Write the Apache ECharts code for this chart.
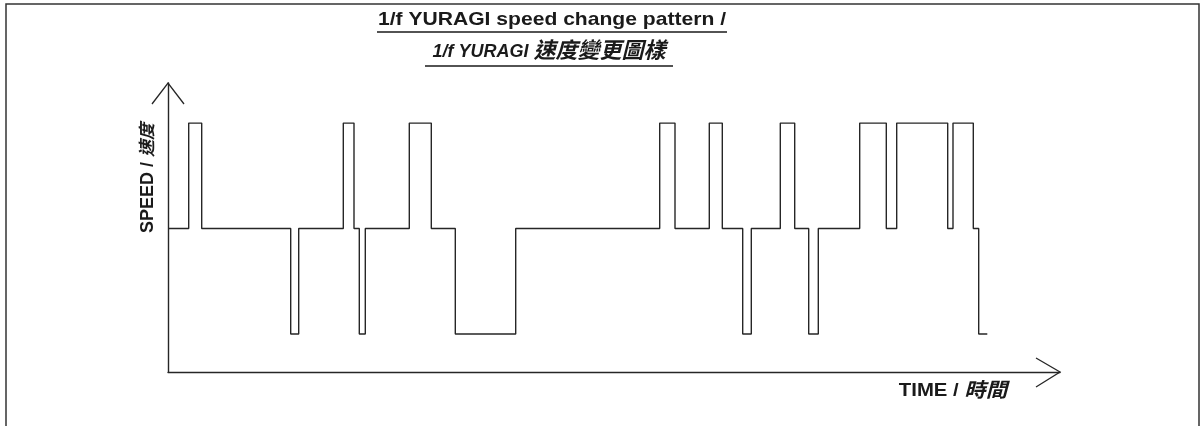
<!DOCTYPE html>
<html>
<head>
<meta charset="utf-8">
<script src="https://cdn.jsdelivr.net/npm/echarts@6/dist/echarts.min.js"></script>
<style>
    html, body { margin: 0; padding: 0; background: #fff; }
    #chart { width: 1202px; height: 426px; }
</style>
</head>
<body>
<div id="chart"></div>
<script>
// time (arbitrary units) at which the speed level changes
var timePoints = [0, 20.7, 33.7, 122.7, 130.7, 175.3, 186, 191.3, 197.3, 241.3, 263.3, 287.3, 347.7,
    491.7, 507, 541.3, 554.3, 574.7, 583.3, 612.3, 626.7, 640.7, 650.3, 691.7, 718.3, 728.7,
    779.7, 785, 805.3, 810.7, 819.3];
// speed level held from that time on: 1 = slow, 2 = normal, 3 = fast
var speedLevels = [2, 3, 2, 1, 2, 3, 2, 1, 2, 3, 2, 1, 2,
    3, 2, 3, 2, 1, 2, 3, 2, 1, 2, 3, 2, 3,
    2, 3, 2, 1, 1];

var titleLine1 = '1/f YURAGI speed change pattern /';
var titleLine2a = '1/f YURAGI ';
var titleLine2b = '速度變更圖樣';

var ink = '#262626';
var textInk = '#1a1a1a';
var font = '"Liberation Sans", "Noto Sans CJK TC", sans-serif';

var seriesData = [];
for (var i = 0; i < timePoints.length; i++) {
    seriesData.push([timePoints[i], speedLevels[i]]);
}

var chart = echarts.init(document.getElementById('chart'));

var option = {
    backgroundColor: '#fff',
    animation: false,
    grid: {
        left: 168,
        right: 142,
        top: 83,
        bottom: 54
    },
    xAxis: {
        type: 'value',
        min: 0,
        max: 892,
        axisLine: { lineStyle: { color: ink, width: 1.4 } },
        axisTick: { show: false },
        axisLabel: { show: false },
        splitLine: { show: false }
    },
    yAxis: {
        type: 'value',
        min: 0.64,
        max: 3.38,
        axisLine: { show: true, lineStyle: { color: ink, width: 1.4 } },
        axisTick: { show: false },
        axisLabel: { show: false },
        splitLine: { show: false }
    },
    series: [
        {
            type: 'line',
            step: 'end',
            data: seriesData,
            showSymbol: false,
            lineStyle: { color: ink, width: 1.4 }
        }
    ],
    graphic: [
        // frame
        {
            type: 'rect',
            shape: { x: 6, y: 4, width: 1193, height: 440 },
            style: { fill: 'none', stroke: '#333', lineWidth: 1.5 }
        },
        // title
        {
            type: 'text',
            x: 552,
            y: 20,
            scaleX: 1.11,
            style: {
                text: titleLine1,
                font: 'bold 19px ' + font,
                fill: textInk,
                textAlign: 'center',
                textVerticalAlign: 'middle'
            }
        },
        {
            type: 'line',
            shape: { x1: 377, y1: 32, x2: 727, y2: 32 },
            style: { stroke: textInk, lineWidth: 1.3 }
        },
        {
            type: 'text',
            x: 549,
            y: 52,
            style: {
                text: '{a|' + titleLine2a + '}{b|' + titleLine2b + '}',
                textAlign: 'center',
                textVerticalAlign: 'middle',
                rich: {
                    a: { font: 'italic bold 18px ' + font, fill: textInk },
                    b: { font: 'italic bold 22px ' + font, fill: textInk }
                }
            }
        },
        {
            type: 'line',
            shape: { x1: 425, y1: 66, x2: 673, y2: 66 },
            style: { stroke: textInk, lineWidth: 1.3 }
        },
        // axis arrow heads
        {
            type: 'polyline',
            shape: { points: [[152, 104], [168, 83], [184, 104]] },
            style: { fill: 'none', stroke: ink, lineWidth: 1.3 }
        },
        {
            type: 'polyline',
            shape: { points: [[1036, 358], [1060, 372], [1036, 387]] },
            style: { fill: 'none', stroke: ink, lineWidth: 1.3 }
        },
        // axis names
        {
            type: 'text',
            x: 148,
            y: 178,
            rotation: Math.PI / 2,
            style: {
                text: '{a|SPEED / }{b|速度}',
                textAlign: 'center',
                textVerticalAlign: 'middle',
                rich: {
                    a: { font: 'bold 18px ' + font, fill: textInk },
                    b: { font: 'italic bold 17px ' + font, fill: textInk }
                }
            }
        },
        {
            type: 'text',
            x: 953,
            y: 391,
            scaleX: 1.07,
            style: {
                text: '{a|TIME / }{b|時間}',
                textAlign: 'center',
                textVerticalAlign: 'middle',
                rich: {
                    a: { font: 'bold 19px ' + font, fill: textInk },
                    b: { font: 'italic bold 20px ' + font, fill: textInk }
                }
            }
        }
    ]
};

chart.setOption(option);
</script>
</body>
</html>
